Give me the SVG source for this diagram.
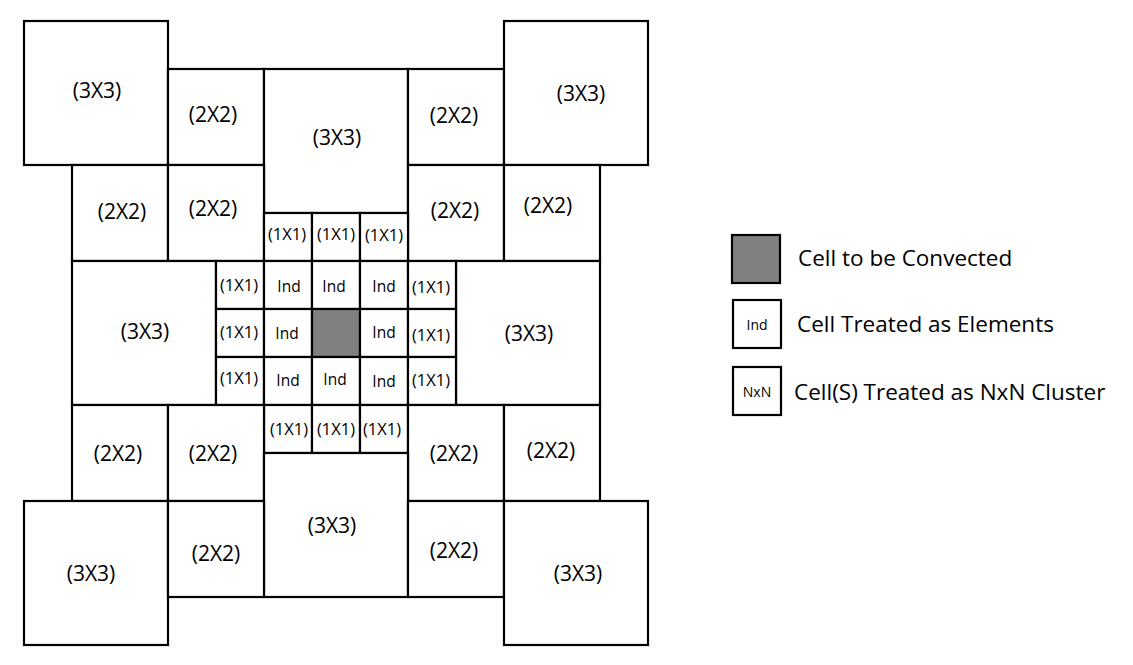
<svg xmlns="http://www.w3.org/2000/svg" width="1133" height="665" viewBox="0 0 1133 665">
<style>
rect{fill:#fff;stroke:#000;stroke-width:2.2}
rect.g{fill:#808080}
text{font-family:"Open Sans","Noto Sans",sans-serif;fill:#000;text-anchor:middle}
.b{font-size:21px}
.s{font-size:16.5px}
.i{font-size:15.5px}
.lg{font-size:22.5px;text-anchor:start}
.lt{font-size:14px}
</style>
<rect x="0" y="0" width="1133" height="665" style="stroke:none"/>
<g id="tl3"><rect x="24" y="21" width="144" height="144"/><text class="b" x="97" y="98">(3X3)</text></g>
<g id="t2a"><rect x="168" y="69" width="96" height="96"/><text class="b" x="213" y="122">(2X2)</text></g>
<g id="t3"><rect x="264" y="69" width="144" height="144"/><text class="b" x="337" y="145">(3X3)</text></g>
<g id="t2b"><rect x="408" y="69" width="96" height="96"/><text class="b" x="454" y="123">(2X2)</text></g>
<g id="tr3"><rect x="504" y="21" width="144" height="144"/><text class="b" x="581" y="101">(3X3)</text></g>
<g id="r2a"><rect x="72" y="165" width="96" height="96"/><text class="b" x="122" y="219">(2X2)</text></g>
<g id="r2b"><rect x="168" y="165" width="96" height="96"/><text class="b" x="213" y="216">(2X2)</text></g>
<g id="r2c"><rect x="408" y="165" width="96" height="96"/><text class="b" x="455" y="218">(2X2)</text></g>
<g id="r2d"><rect x="504" y="165" width="96" height="96"/><text class="b" x="548" y="213">(2X2)</text></g>
<g id="a1"><rect x="264" y="213" width="48" height="48"/><text class="s" x="287" y="240">(1X1)</text></g>
<g id="a2"><rect x="312" y="213" width="48" height="48"/><text class="s" x="336" y="240">(1X1)</text></g>
<g id="a3"><rect x="360" y="213" width="48" height="48"/><text class="s" x="384" y="241">(1X1)</text></g>
<g id="ml3"><rect x="72" y="261" width="144" height="144"/><text class="b" x="145" y="339">(3X3)</text></g>
<g id="mr3"><rect x="456" y="261" width="144" height="144"/><text class="b" x="529" y="341">(3X3)</text></g>
<g id="l1"><rect x="216" y="261" width="48" height="48"/><text class="s" x="239" y="291">(1X1)</text></g>
<g id="l2"><rect x="216" y="309" width="48" height="48"/><text class="s" x="239" y="338">(1X1)</text></g>
<g id="l3"><rect x="216" y="357" width="48" height="48"/><text class="s" x="239" y="384">(1X1)</text></g>
<g id="i1"><rect x="264" y="261" width="48" height="48"/><text class="i" x="289" y="292">Ind</text></g>
<g id="i2"><rect x="312" y="261" width="48" height="48"/><text class="i" x="334" y="292">Ind</text></g>
<g id="i3"><rect x="360" y="261" width="48" height="48"/><text class="i" x="384" y="292">Ind</text></g>
<g id="i4"><rect x="264" y="309" width="48" height="48"/><text class="i" x="287" y="339">Ind</text></g>
<g id="center"><rect class="g" x="312" y="309" width="48" height="48"/></g>
<g id="i5"><rect x="360" y="309" width="48" height="48"/><text class="i" x="384" y="338">Ind</text></g>
<g id="i6"><rect x="264" y="357" width="48" height="48"/><text class="i" x="288" y="386">Ind</text></g>
<g id="i7"><rect x="312" y="357" width="48" height="48"/><text class="i" x="335" y="385">Ind</text></g>
<g id="i8"><rect x="360" y="357" width="48" height="48"/><text class="i" x="384" y="387">Ind</text></g>
<g id="r1"><rect x="408" y="261" width="48" height="48"/><text class="s" x="431" y="293">(1X1)</text></g>
<g id="r2"><rect x="408" y="309" width="48" height="48"/><text class="s" x="431" y="341">(1X1)</text></g>
<g id="r3"><rect x="408" y="357" width="48" height="48"/><text class="s" x="431" y="386">(1X1)</text></g>
<g id="b1"><rect x="264" y="405" width="48" height="48"/><text class="s" x="289" y="435">(1X1)</text></g>
<g id="b2"><rect x="312" y="405" width="48" height="48"/><text class="s" x="336" y="435">(1X1)</text></g>
<g id="b3"><rect x="360" y="405" width="48" height="48"/><text class="s" x="382" y="435">(1X1)</text></g>
<g id="s2a"><rect x="72" y="405" width="96" height="96"/><text class="b" x="118" y="461">(2X2)</text></g>
<g id="s2b"><rect x="168" y="405" width="96" height="96"/><text class="b" x="213" y="461">(2X2)</text></g>
<g id="s2c"><rect x="408" y="405" width="96" height="96"/><text class="b" x="454" y="461">(2X2)</text></g>
<g id="s2d"><rect x="504" y="405" width="96" height="96"/><text class="b" x="551" y="458">(2X2)</text></g>
<g id="b3c"><rect x="264" y="453" width="144" height="144"/><text class="b" x="332" y="533">(3X3)</text></g>
<g id="bl3"><rect x="24" y="501" width="144" height="144"/><text class="b" x="91" y="581">(3X3)</text></g>
<g id="u2a"><rect x="168" y="501" width="96" height="96"/><text class="b" x="216" y="561">(2X2)</text></g>
<g id="u2b"><rect x="408" y="501" width="96" height="96"/><text class="b" x="454" y="558">(2X2)</text></g>
<g id="br3"><rect x="504" y="501" width="144" height="144"/><text class="b" x="578" y="581">(3X3)</text></g>
<g id="legend">
<g id="leg1"><rect class="g" x="732" y="235" width="48" height="48"/><text class="lg" x="798" y="266">Cell to be Convected</text></g>
<g id="leg2"><rect x="733" y="300" width="48" height="48"/><text class="lt" x="757" y="330">Ind</text><text class="lg" x="797" y="332">Cell Treated as Elements</text></g>
<g id="leg3"><rect x="733" y="367" width="48" height="48"/><text class="lt" x="757" y="397">NxN</text><text class="lg" x="794" y="400">Cell(S) Treated as NxN Cluster</text></g>
</g>
<g id="connectors"/>
</svg>
